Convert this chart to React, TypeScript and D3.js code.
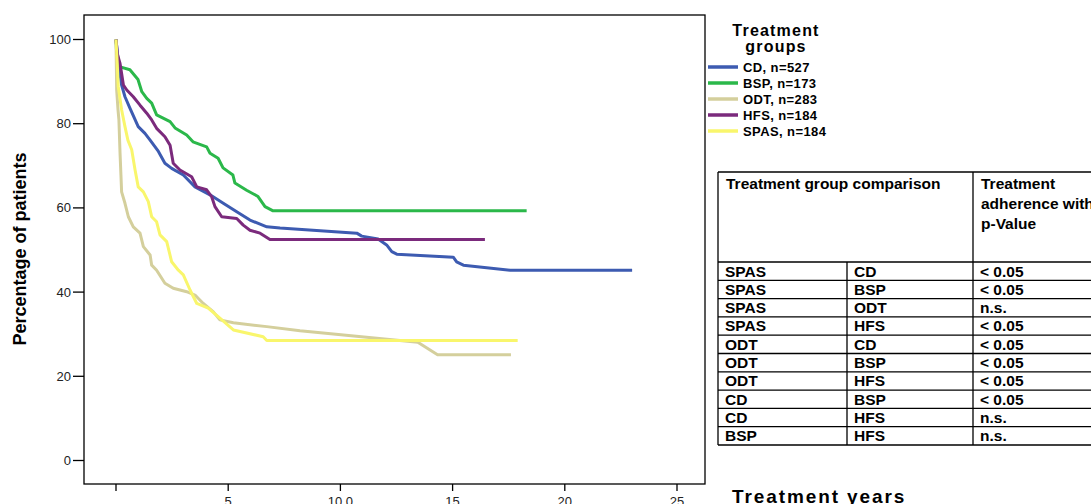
import React from "react";
import * as d3 from "d3";

// survival curves: [years, percent]
const cdTimes = [0, 0.1, 0.25, 0.4, 0.62, 0.99, 1.29, 1.52, 1.89, 2.18, 2.48, 3.0, 3.52, 4.19, 4.78, 5.38, 5.97, 6.72, 7.31, 10.73, 10.95, 11.68, 12.06, 12.29, 12.51, 15.03, 15.18, 15.48, 17.56, 23.0];
const cdValues = [100, 95, 89.2, 86.4, 83.7, 79.3, 77.7, 76.1, 73.4, 70.6, 69.4, 67.8, 65.0, 63.1, 61.1, 59.1, 57.1, 55.5, 55.2, 54.0, 53.3, 52.6, 51.2, 49.6, 49.0, 48.3, 47.2, 46.4, 45.2, 45.2];

const bspTimes = [0, 0.05, 0.18, 0.62, 0.98, 1.15, 1.37, 1.59, 1.81, 2.41, 2.63, 3.15, 3.43, 4.04, 4.19, 4.55, 4.77, 5.21, 5.3, 5.82, 6.33, 6.64, 7.0, 18.3];
const bspValues = [100, 94.4, 93.5, 92.8, 90.5, 87.6, 86.0, 84.9, 82.1, 80.5, 79.0, 77.3, 75.7, 74.5, 73.0, 71.8, 69.5, 67.8, 65.9, 64.2, 62.7, 60.3, 59.3, 59.3];

const odtTimes = [0, 0.03, 0.09, 0.13, 0.18, 0.22, 0.25, 0.4, 0.55, 0.77, 1.07, 1.22, 1.52, 1.59, 1.81, 2.18, 2.55, 3.15, 3.52, 3.89, 4.34, 4.63, 5.23, 6.72, 8.2, 13.45, 14.33, 17.6];
const odtValues = [100, 88.0, 83.3, 80.9, 73.0, 67.8, 63.8, 61.1, 57.9, 55.5, 54.0, 50.8, 48.8, 46.4, 45.2, 42.1, 40.9, 40.1, 39.3, 37.3, 35.3, 33.4, 32.7, 31.8, 30.8, 28.1, 25.1, 25.1];

const hfsTimes = [0, 0.06, 0.18, 0.33, 0.48, 0.77, 1.07, 1.37, 1.59, 1.81, 2.18, 2.41, 2.55, 2.85, 3.37, 3.6, 4.04, 4.26, 4.41, 4.71, 5.38, 5.67, 5.97, 6.42, 6.86, 16.44];
const hfsValues = [100, 96.5, 94.3, 89.2, 88.0, 86.4, 84.4, 82.5, 80.9, 78.9, 76.9, 74.9, 70.6, 69.0, 67.4, 65.0, 64.3, 62.7, 60.3, 57.9, 57.5, 55.9, 54.7, 54.0, 52.5, 52.5];

const spasTimes = [0, 0.05, 0.1, 0.25, 0.4, 0.53, 0.7, 0.85, 0.99, 1.22, 1.44, 1.59, 1.81, 1.96, 2.26, 2.48, 2.78, 3.0, 3.3, 3.6, 4.11, 4.63, 5.23, 6.56, 6.72, 17.9];
const spasValues = [100, 95.0, 88.8, 83.3, 79.3, 76.1, 73.8, 69.0, 65.0, 63.8, 61.5, 57.9, 56.7, 53.6, 52.0, 47.2, 45.2, 44.1, 40.5, 37.3, 36.2, 33.8, 31.0, 29.4, 28.5, 28.5];

const groupNames = ["CD, n=527", "BSP, n=173", "ODT, n=283", "HFS, n=184", "SPAS, n=184"];
const groupColors = ["#3d5bb1", "#2bb84a", "#d4cf9c", "#7b2a7c", "#f9f66c"];
const groupTimes = [cdTimes, bspTimes, odtTimes, hfsTimes, spasTimes];
const groupValues = [cdValues, bspValues, odtValues, hfsValues, spasValues];

const xTicks = [0, 5, 10, 15, 20, 25];
const xTickLabels = ["", "5", "10.0", "15", "20", "25"];
const yTicks = [0, 20, 40, 60, 80, 100];

const tableRows = [
  ["SPAS", "CD", "< 0.05"],
  ["SPAS", "BSP", "< 0.05"],
  ["SPAS", "ODT", "n.s."],
  ["SPAS", "HFS", "< 0.05"],
  ["ODT", "CD", "< 0.05"],
  ["ODT", "BSP", "< 0.05"],
  ["ODT", "HFS", "< 0.05"],
  ["CD", "BSP", "< 0.05"],
  ["CD", "HFS", "n.s."],
  ["BSP", "HFS", "n.s."],
];

const frame = { left: 84, top: 15, right: 705, bottom: 484 };

export default function App() {
  const x = d3.scaleLinear().domain([0, 25]).range([116, 677]);
  const y = d3.scaleLinear().domain([0, 100]).range([460.5, 39.5]);

  const narrow = "'Liberation Sans Narrow', 'Arial Narrow', 'Liberation Sans', Arial, sans-serif";
  const sans = "'Liberation Sans', Arial, sans-serif";

  // table geometry
  const tLeft = 718, tTop = 172, headH = 90, rowH = 18.3;
  const cols = [718, 847, 973];
  const tBottom = tTop + headH + rowH * tableRows.length;

  return (
    <svg
      width={1091}
      height={504}
      style={{ position: "absolute", left: 0, top: 0, background: "#fff" }}
    >
      {/* plot frame */}
      <rect
        x={frame.left}
        y={frame.top}
        width={frame.right - frame.left}
        height={frame.bottom - frame.top}
        fill="none"
        stroke="#000"
        strokeWidth={1.3}
      />

      {/* y axis */}
      {yTicks.map((t) => (
        <g key={"y" + t}>
          <line x1={frame.left - 11} x2={frame.left} y1={y(t)} y2={y(t)} stroke="#000" strokeWidth={1.3} />
          <text x={frame.left - 13} y={y(t)} dy="0.35em" textAnchor="end" fontFamily={sans} fontSize={13} fill="#222">
            {t}
          </text>
        </g>
      ))}
      <text
        transform={`translate(26,249) rotate(-90)`}
        textAnchor="middle"
        fontFamily={narrow}
        fontWeight="bold"
        fontSize={18}
        fill="#000"
      >
        Percentage of patients
      </text>

      {/* x axis */}
      {xTicks.map((t, i) => (
        <g key={"x" + t}>
          <line x1={x(t)} x2={x(t)} y1={frame.bottom} y2={frame.bottom + 7} stroke="#000" strokeWidth={1.3} />
          <text x={x(t)} y={frame.bottom + 22} textAnchor="middle" fontFamily={sans} fontSize={13} fill="#222">
            {xTickLabels[i]}
          </text>
        </g>
      ))}
      <text x={732} y={503} fontFamily={sans} fontWeight="bold" fontSize={19} letterSpacing={1.9} fill="#000">
        Treatment years
      </text>

      {/* curves */}
      {groupTimes.map((times, gi) => {
        const path = d3
          .line<number>()
          .x((d) => x(d))
          .y((_, i) => y(groupValues[gi][i]))
          .curve(d3.curveLinear)(times);
        return (
          <path
            key={groupNames[gi]}
            d={path || ""}
            fill="none"
            stroke={groupColors[gi]}
            strokeWidth={3}
            strokeLinejoin="round"
          />
        );
      })}

      {/* legend */}
      <text x={776} y={36} textAnchor="middle" fontFamily={sans} fontWeight="bold" fontSize={16} letterSpacing={1.2}>
        Treatment
      </text>
      <text x={776} y={52} textAnchor="middle" fontFamily={sans} fontWeight="bold" fontSize={16} letterSpacing={1.2}>
        groups
      </text>
      {groupNames.map((name, i) => (
        <g key={"lg" + name} transform={`translate(0,${67 + i * 16})`}>
          <line x1={708} x2={738} y1={0} y2={0} stroke={groupColors[i]} strokeWidth={3.5} />
          <text x={743} y={0} dy="0.36em" fontFamily={sans} fontWeight="bold" fontSize={13} letterSpacing={0.4}>
            {name}
          </text>
        </g>
      ))}

      {/* comparison table */}
      <g fontFamily={narrow} fontWeight="bold" fontSize={15.5} fill="#000">
        <line x1={tLeft} x2={1091} y1={tTop} y2={tTop} stroke="#000" strokeWidth={1.3} />
        <line x1={tLeft} x2={1091} y1={tBottom} y2={tBottom} stroke="#000" strokeWidth={1.3} />
        <line x1={tLeft} x2={tLeft} y1={tTop} y2={tBottom} stroke="#000" strokeWidth={1.3} />
        <line x1={cols[1]} x2={cols[1]} y1={tTop + headH} y2={tBottom} stroke="#000" strokeWidth={1.3} />
        <line x1={cols[2]} x2={cols[2]} y1={tTop} y2={tBottom} stroke="#000" strokeWidth={1.3} />
        <text x={cols[0] + 8} y={tTop + 17}>Treatment group comparison</text>
        <text x={cols[2] + 8} y={tTop + 17}>Treatment</text>
        <text x={cols[2] + 8} y={tTop + 37}>adherence with</text>
        <text x={cols[2] + 8} y={tTop + 57}>p-Value</text>
        {tableRows.map((row, ri) => {
          const top = tTop + headH + ri * rowH;
          return (
            <g key={"r" + ri}>
              <line x1={tLeft} x2={1091} y1={top} y2={top} stroke="#000" strokeWidth={1.3} />
              {row.map((cell, ci) => (
                <text key={ci} x={cols[ci] + 7} y={top + 14.5}>
                  {cell}
                </text>
              ))}
            </g>
          );
        })}
      </g>
    </svg>
  );
}
